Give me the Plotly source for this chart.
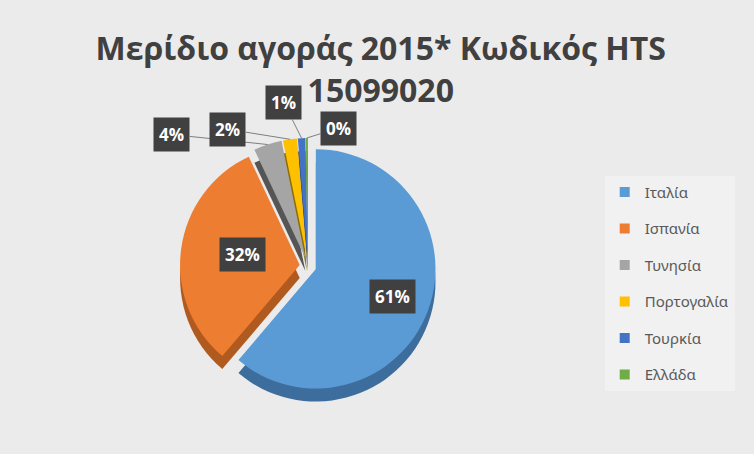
import numpy as np
import plotly.graph_objects as go

# market share 2015, HTS code 15099020
countries = ["Ιταλία", "Ισπανία", "Τυνησία", "Πορτογαλία", "Τουρκία", "Ελλάδα"]
shares = [61.2, 31.8, 3.8, 1.9, 1.0, 0.3]
colors = ["#5b9bd5", "#ed7d31", "#a5a5a5", "#ffc000", "#4472c4", "#70ad47"]
side_colors = ["#3d6d9c", "#b05a20", "#555555", "#8c6d00", "#2f4f8a", "#4d7a30"]

W, H = 754, 454
cx, cy, R = 308, 266, 128     # pie centre / outer radius in pixels
depth = 13                    # fake 3d thickness
pull = 0.07
r = R / (1 + pull)

dom_x = [(cx - R) / W, (cx + R) / W]
dom_y = [1 - (cy + R) / H, 1 - (cy - R) / H]
dom_y_side = [dom_y[0] - depth / H, dom_y[1] - depth / H]

fig = go.Figure()

# "side" of the pie, drawn first and shifted down
fig.add_trace(go.Pie(
    labels=countries, values=shares, sort=False, direction="clockwise",
    rotation=0, pull=[pull] * len(shares), textinfo="none", hoverinfo="skip",
    marker=dict(colors=side_colors, line=dict(width=0)),
    domain=dict(x=dom_x, y=dom_y_side), showlegend=False,
))
fig.add_trace(go.Pie(
    labels=countries, values=shares, sort=False, direction="clockwise",
    rotation=0, pull=[pull] * len(shares), textinfo="none",
    marker=dict(colors=colors, line=dict(width=0)),
    domain=dict(x=dom_x, y=dom_y), showlegend=False,
))

# legend entries
for name, col in zip(countries, colors):
    fig.add_trace(go.Scatter(
        x=[None], y=[None], mode="markers", name=name, legendgroup=name,
        marker=dict(symbol="square", size=10, color=col),
    ))

# percentage labels in dark boxes
frac = np.array(shares) / sum(shares)
start = np.concatenate([[0], np.cumsum(frac)[:-1]]) * 360
mid = np.radians(start + frac * 180)
label_offsets = [None, None, (-96, -10), (-62, -10), (-18, -36), (32, -10)]
label_font = dict(color="white", size=17, family="Open Sans")

for i, m in enumerate(mid):
    pct = "<b>%d%%</b>" % round(frac[i] * 100)
    off = label_offsets[i]
    if off is None:
        rho = pull * r + 0.68 * r
        px, py = cx + rho * np.sin(m), cy - rho * np.cos(m)
        fig.add_annotation(x=px / W, y=1 - py / H, xref="paper", yref="paper",
                           text=pct, showarrow=False, bgcolor="#404040",
                           borderpad=5, font=label_font)
    else:
        rho = pull * r + r
        px, py = cx + rho * np.sin(m), cy - rho * np.cos(m)
        fig.add_annotation(x=px / W, y=1 - py / H, xref="paper", yref="paper",
                           text=pct, showarrow=True, arrowhead=0, arrowwidth=1,
                           arrowcolor="#7f7f7f", ax=off[0], ay=off[1],
                           bgcolor="#404040", borderpad=5, font=label_font)

fig.update_layout(
    width=W, height=H,
    margin=dict(l=0, r=0, t=0, b=0, autoexpand=False),
    paper_bgcolor="#ebebeb", plot_bgcolor="rgba(0,0,0,0)",
    title=dict(text="<b>Μερίδιο αγοράς 2015* Κωδικός HTS<br>15099020</b>",
               x=0.505, xanchor="center", y=0.867, yanchor="top",
               font=dict(family="Open Sans", size=32, color="#404040")),
    xaxis=dict(visible=False), yaxis=dict(visible=False),
    legend=dict(x=0.802, y=0.613, xanchor="left", yanchor="top",
                bgcolor="rgba(255,255,255,0.3)", tracegroupgap=14,
                font=dict(family="Noto Sans", size=15, color="#595959")),
)

fig.write_html("out.html", config={"displayModeBar": False},
               post_script="document.body.style.margin='0';")
